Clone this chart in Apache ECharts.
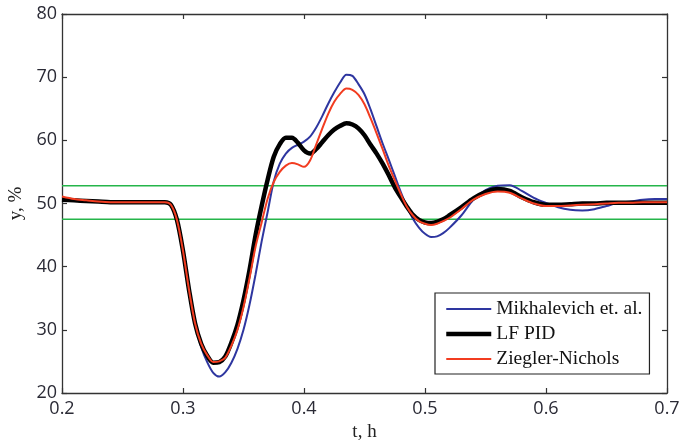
<!DOCTYPE html>
<html><head><meta charset="utf-8">
<script src="https://cdn.jsdelivr.net/npm/echarts@6/dist/echarts.min.js"></script>
<style>html,body{margin:0;padding:0;background:#fff}#c{width:694px;height:442px}</style>
</head><body><div id="c"></div>
<script>
const t = [0.2,0.21,0.22,0.23,0.24,0.25,0.26,0.27,0.28,0.285,0.29,0.295,0.30,0.305,0.31,0.315,0.32,0.325,0.33,0.335,0.34,0.345,0.35,0.355,0.36,0.365,0.37,0.375,0.38,0.385,0.39,0.395,0.40,0.405,0.41,0.415,0.42,0.425,0.43,0.435,0.44,0.445,0.45,0.455,0.46,0.465,0.47,0.475,0.48,0.485,0.49,0.495,0.50,0.505,0.51,0.515,0.52,0.53,0.54,0.55,0.56,0.57,0.58,0.59,0.60,0.61,0.62,0.63,0.64,0.65,0.66,0.67,0.68,0.69,0.70];
const mikhalevich = [50.7,50.5,50.4,50.3,50.2,50.2,50.2,50.2,50.2,50.2,49.8,47.4,42.5,36.3,30.9,27.3,24.9,23.2,22.6,23.3,24.8,27.0,30.0,34.0,38.8,44.0,48.7,53.5,56.3,57.9,58.8,59.3,59.8,60.6,62.0,63.8,65.8,67.6,69.2,70.4,70.2,68.9,67.3,64.9,62.2,59.5,57.0,54.4,51.8,49.5,47.6,46.2,45.2,44.7,44.8,45.3,46.1,48.1,50.6,52.1,52.8,52.9,52.0,50.9,50.1,49.4,49.0,48.9,49.1,49.6,50.1,50.3,50.6,50.7,50.7];
const lfPid = [50.6,50.5,50.4,50.3,50.2,50.2,50.2,50.2,50.2,50.2,49.8,47.4,42.5,36.3,31.0,27.8,25.9,24.8,24.9,25.8,28.0,30.8,34.7,39.5,45.0,49.6,53.8,57.4,59.4,60.4,60.4,59.6,58.4,57.9,58.6,59.7,60.8,61.7,62.3,62.7,62.5,61.9,60.8,59.3,57.9,56.3,54.5,52.6,51.0,49.5,48.2,47.4,47.0,46.9,47.1,47.5,48.1,49.4,50.8,51.8,52.3,52.0,51.0,50.2,49.8,49.8,49.9,50.0,50.0,50.1,50.1,50.1,50.1,50.1,50.1];
const zieglerNichols = [51.1,50.7,50.5,50.3,50.2,50.2,50.2,50.2,50.2,50.2,49.8,47.4,42.5,36.3,31.0,27.8,26.0,24.9,25.0,25.6,27.5,30.0,33.6,38.2,43.2,47.0,50.8,53.4,55.0,56.0,56.4,56.2,55.8,56.8,59.3,61.8,64.2,66.1,67.4,68.2,68.0,67.2,65.7,63.5,61.1,58.6,56.0,53.7,51.5,49.5,48.1,47.2,46.8,46.6,46.8,47.2,47.7,49.1,50.6,51.5,51.9,51.7,50.8,50.0,49.6,49.6,49.7,49.8,49.9,50.0,50.1,50.1,50.2,50.2,50.2];
const bandUpper = 52.8;
const bandLower = 47.5;
const names = ['Mikhalevich et. al.','LF PID','Ziegler-Nichols'];
const colors = ['#2e36a0','#000000','#f23c20'];
const widths = [2, 4.5, 2];

const pair = arr => t.map((x,i)=>[x,arr[i]]);
const chart = echarts.init(document.getElementById('c'), null, {renderer:'canvas'});
const axisLine = {show:true, lineStyle:{color:'#333', width:1.3}};
const tick = {show:true, inside:true, length:5, lineStyle:{color:'#333', width:1.2}};
const lblFont = {fontFamily:'Open Sans', fontSize:18, color:'#2a2a35'};
chart.setOption({
  animation:false,
  backgroundColor:'#fff',
  grid:{left:62, right:27, top:14, bottom:49, containLabel:false, outerBoundsMode:'none'},
  xAxis:[
    {type:'value', min:0.2, max:0.7, interval:0.1, position:'bottom',
     axisLine, axisTick:tick, splitLine:{show:false},
     axisLabel:Object.assign({margin:7, formatter:v=>v.toFixed(1)}, lblFont),
     name:'t, h', nameLocation:'middle', nameGap:30,
     nameTextStyle:{fontFamily:'Liberation Serif', fontSize:19, color:'#222'}},
    {type:'value', min:0.2, max:0.7, interval:0.1, position:'top',
     axisLine, axisTick:tick, axisLabel:{show:false}, splitLine:{show:false}}
  ],
  yAxis:[
    {type:'value', min:20, max:80, interval:10, position:'left',
     axisLine, axisTick:tick, splitLine:{show:false},
     axisLabel:Object.assign({margin:5}, lblFont),
     name:'y, %', nameLocation:'middle', nameGap:34, nameRotate:90,
     nameTextStyle:{fontFamily:'Liberation Serif', fontSize:19, color:'#222'}},
    {type:'value', min:20, max:80, interval:10, position:'right',
     axisLine, axisTick:tick, axisLabel:{show:false}, splitLine:{show:false}}
  ],
  legend:{
    data:names.map((n,i)=>({name:n, lineStyle:{color:colors[i], width:widths[i]}})),
    orient:'vertical', left:435, top:293,
    backgroundColor:'#fff', borderColor:'#222', borderWidth:1.2,
    padding:[6,7,5,9], itemGap:5, itemWidth:45, itemHeight:20,
    itemStyle:{opacity:0},
    textStyle:{fontFamily:'Liberation Serif', fontSize:19.5, color:'#111'}
  },
  series:[
    {type:'line', data:[[0.2,bandUpper],[0.7,bandUpper]], symbol:'none', silent:true,
     lineStyle:{color:'#25b54a', width:1.5}},
    {type:'line', data:[[0.2,bandLower],[0.7,bandLower]], symbol:'none', silent:true,
     lineStyle:{color:'#25b54a', width:1.5}},
    {name:names[0], type:'line', data:pair(mikhalevich), symbol:'none', smooth:0.3,
     lineStyle:{color:colors[0], width:widths[0]}, itemStyle:{color:colors[0]}},
    {name:names[1], type:'line', data:pair(lfPid), symbol:'none', smooth:0.3,
     lineStyle:{color:colors[1], width:widths[1]}, itemStyle:{color:colors[1]}},
    {name:names[2], type:'line', data:pair(zieglerNichols), symbol:'none', smooth:0.3,
     lineStyle:{color:colors[2], width:widths[2]}, itemStyle:{color:colors[2]}}
  ]
});
</script></body></html>
